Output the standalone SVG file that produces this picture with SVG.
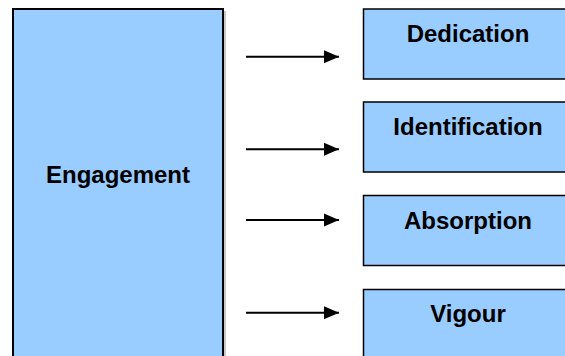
<svg xmlns="http://www.w3.org/2000/svg" width="565" height="356" viewBox="0 0 565 356">
<style>
.box{fill:#99ccff;stroke:#000;stroke-width:1.5}
.big{fill:#99ccff;stroke:#000;stroke-width:2}
.lbl{font-family:"Liberation Sans",Arial,sans-serif;font-weight:bold;font-size:24px;fill:#000;text-anchor:middle}
.conn{stroke:#000;stroke-width:2;fill:none}
</style>
<defs>
<marker id="ah" markerWidth="16" markerHeight="14" refX="15" refY="7" orient="auto" markerUnits="userSpaceOnUse">
<path d="M0,0.5 L15,7 L0,13.5 Z" fill="#000"/>
</marker>
</defs>
<rect width="565" height="356" fill="#fff"/>
<g id="engagement">
<rect x="224" y="11" width="2" height="350" fill="#c8c8c8"/>
<rect class="big" x="13" y="9" width="210" height="360"/>
<text class="lbl" x="118" y="182.5">Engagement</text>
</g>
<g id="dedication">
<rect class="box" x="363.5" y="9" width="210" height="70"/>
<text class="lbl" x="468" y="41.5">Dedication</text>
</g>
<g id="identification">
<rect class="box" x="363.5" y="102" width="210" height="70"/>
<text class="lbl" x="468" y="135">Identification</text>
</g>
<g id="absorption">
<rect class="box" x="363.5" y="195.5" width="210" height="70"/>
<text class="lbl" x="468" y="229">Absorption</text>
</g>
<g id="vigour">
<rect class="box" x="363.5" y="289.5" width="210" height="80"/>
<text class="lbl" x="468" y="322">Vigour</text>
</g>
<g id="connectors">
<line class="conn" x1="246" y1="56.7" x2="339" y2="56.7" marker-end="url(#ah)"/>
<line class="conn" x1="246" y1="149.3" x2="339" y2="149.3" marker-end="url(#ah)"/>
<line class="conn" x1="246" y1="220" x2="339" y2="220" marker-end="url(#ah)"/>
<line class="conn" x1="246" y1="312.7" x2="339" y2="312.7" marker-end="url(#ah)"/>
</g>
</svg>
